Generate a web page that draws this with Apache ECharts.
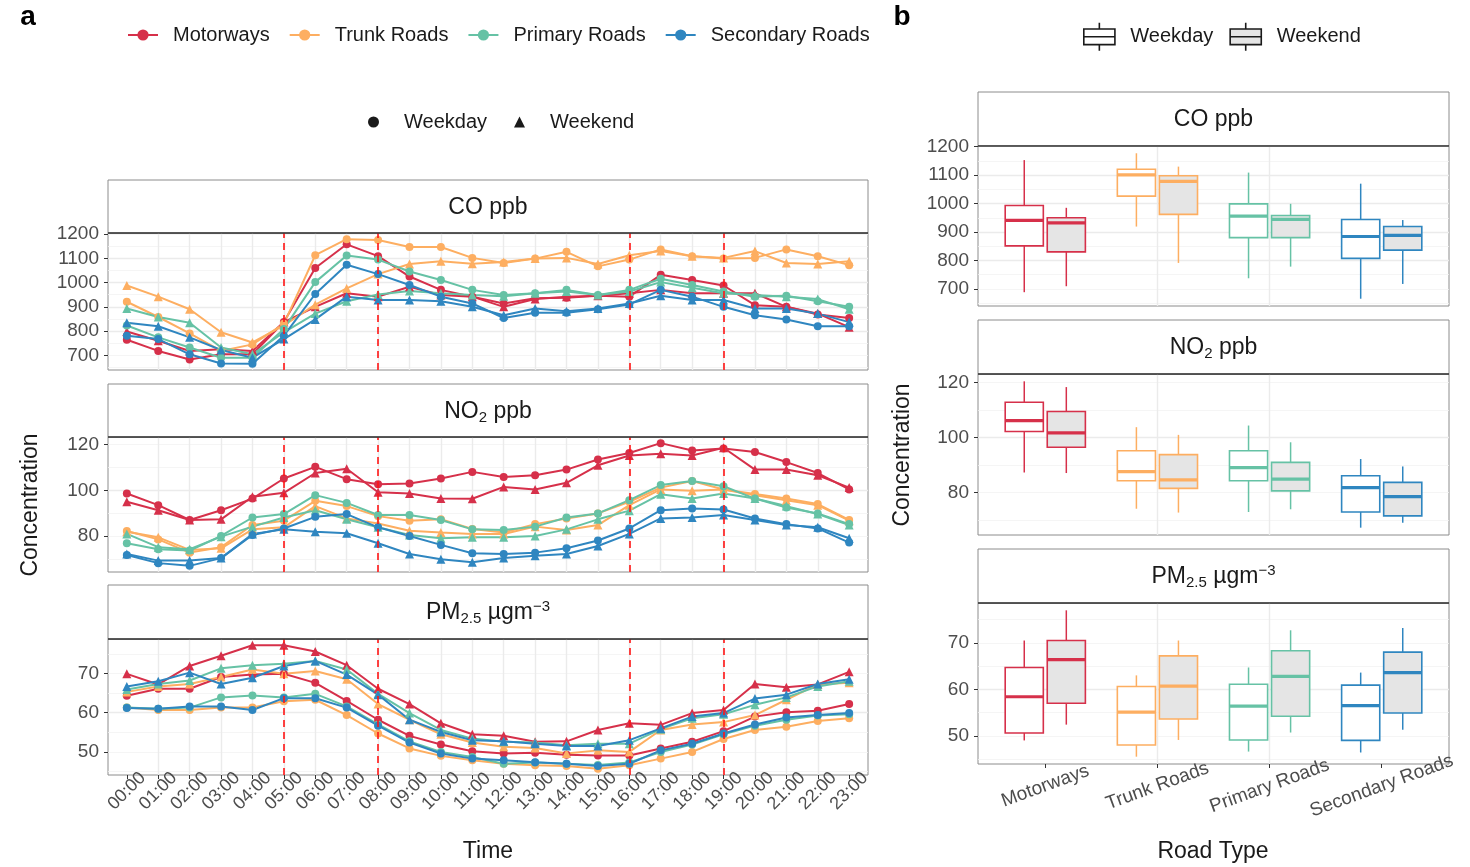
<!DOCTYPE html>
<html>
<head>
<meta charset="utf-8">
<title>Concentration by road type</title>
<script src="https://cdn.jsdelivr.net/npm/echarts@6/dist/echarts.min.js"></script>
<style>
  html, body { margin: 0; padding: 0; background: #fff; }
  #chart { width: 1470px; height: 867px; }
</style>
</head>
<body>
<div id="chart"></div>
<script>
// categories
const hours = ['00:00', '01:00', '02:00', '03:00', '04:00', '05:00', '06:00', '07:00', '08:00', '09:00', '10:00', '11:00',
               '12:00', '13:00', '14:00', '15:00', '16:00', '17:00', '18:00', '19:00', '20:00', '21:00', '22:00', '23:00'];
const roadTypes = ['Motorways', 'Trunk Roads', 'Primary Roads', 'Secondary Roads'];
const roadColors = ['#d6304a', '#fdae61', '#66c2a5', '#2f86c0'];
const rushHours = ['05:00', '08:00', '16:00', '19:00'];
const stripLabels = ['CO ppb', 'NO{sub|2} ppb', 'PM{sub|2.5} µgm{sup|−3}'];

// CO ppb, hourly means (Wd = weekday, We = weekend)
const coMwWd = [764, 718, 683, 704, 704, 837, 1060, 1158, 1109, 1025, 970, 942, 914, 935, 937, 946, 942, 1032, 1011, 988, 907, 900, 868, 854];
const coMwWe = [798, 760, 718, 725, 718, 837, 900, 956, 942, 983, 949, 942, 900, 932, 942, 946, 956, 970, 956, 956, 956, 900, 872, 816];
const coTrWd = [921, 858, 790, 718, 745, 830, 1113, 1179, 1176, 1147, 1147, 1102, 1081, 1099, 1127, 1067, 1095, 1137, 1109, 1099, 1102, 1137, 1109, 1072];
const coTrWe = [988, 942, 890, 795, 753, 823, 909, 976, 1035, 1077, 1088, 1078, 1085, 1099, 1102, 1077, 1113, 1130, 1109, 1102, 1130, 1081, 1077, 1088];
const coPrWd = [823, 774, 732, 690, 690, 809, 1002, 1112, 1095, 1046, 1011, 970, 949, 956, 970, 949, 970, 1016, 990, 963, 942, 946, 923, 900];
const coPrWe = [893, 858, 834, 732, 704, 795, 872, 923, 951, 965, 956, 949, 944, 956, 963, 949, 963, 1002, 979, 956, 949, 942, 932, 890];
const coSeWd = [781, 767, 704, 666, 665, 781, 953, 1074, 1035, 990, 942, 914, 854, 876, 876, 890, 910, 970, 942, 900, 865, 848, 820, 820];
const coSeWe = [834, 820, 774, 722, 690, 767, 848, 942, 928, 928, 923, 900, 865, 893, 882, 893, 914, 946, 928, 928, 893, 893, 872, 837];

// NO2 ppb
const no2MwWd = [98.6, 93.5, 87.0, 91.3, 96.4, 105.2, 110.3, 104.9, 102.7, 103.0, 105.2, 108.1, 105.9, 106.6, 109.1, 113.5, 116.4, 120.7, 117.5, 118.3, 116.8, 112.4, 107.6, 100.4];
const no2MwWe = [95.0, 91.3, 87.0, 87.3, 97.2, 98.9, 107.6, 109.5, 99.2, 98.6, 96.4, 96.3, 101.5, 100.4, 103.3, 111.0, 115.3, 116.0, 115.3, 118.7, 109.1, 109.1, 106.6, 101.2];
const no2TrWd = [82.2, 78.5, 72.7, 75.1, 84.8, 86.7, 95.4, 93.1, 88.7, 86.7, 87.3, 83.1, 81.5, 85.2, 87.7, 89.9, 95.0, 101.2, 104.1, 100.4, 98.4, 96.4, 94.0, 87.0];
const no2TrWe = [81.9, 79.4, 73.9, 74.6, 82.9, 83.8, 93.1, 87.7, 85.5, 82.3, 81.5, 80.9, 80.9, 84.1, 82.6, 84.8, 93.5, 100.4, 99.8, 100.4, 97.9, 95.7, 93.5, 86.7];
const no2PrWd = [76.8, 74.2, 73.6, 80.0, 88.1, 89.6, 97.9, 94.5, 89.2, 89.2, 87.0, 82.9, 82.6, 84.1, 88.1, 89.9, 95.7, 102.3, 104.1, 101.8, 96.4, 92.5, 89.9, 85.2];
const no2PrWe = [80.9, 75.1, 74.2, 79.7, 84.1, 88.1, 91.3, 87.3, 83.8, 80.4, 79.0, 79.4, 79.4, 80.0, 82.9, 87.3, 91.1, 98.3, 96.4, 98.6, 96.4, 93.1, 89.6, 84.8];
const no2SeWd = [71.7, 68.1, 66.9, 70.3, 80.4, 83.3, 88.4, 89.6, 83.8, 80.0, 76.1, 72.4, 72.1, 72.7, 74.6, 78.0, 83.3, 91.3, 92.1, 91.6, 87.7, 85.2, 83.3, 77.1];
const no2SeWe = [72.1, 69.2, 69.2, 70.3, 80.9, 82.9, 81.9, 81.2, 76.8, 72.1, 69.8, 68.5, 70.3, 71.3, 72.1, 75.6, 80.9, 87.7, 88.1, 89.2, 87.0, 84.8, 83.8, 79.0];

// PM2.5 ugm-3
const pmMwWd = [64.3, 66.1, 66.1, 69.1, 69.7, 69.9, 67.6, 63.0, 58.2, 54.1, 51.9, 50.2, 49.6, 49.8, 49.3, 49.1, 49.1, 50.9, 52.6, 55.3, 59.0, 60.1, 60.5, 62.2];
const pmMwWe = [69.9, 67.2, 71.9, 74.5, 77.2, 77.2, 75.6, 72.1, 66.1, 62.2, 57.3, 54.5, 54.1, 52.6, 52.7, 55.6, 57.3, 56.9, 59.9, 60.7, 67.3, 66.5, 67.2, 70.4];
const pmTrWd = [61.3, 60.7, 60.7, 61.3, 61.3, 62.9, 63.3, 59.4, 54.7, 50.9, 49.0, 47.9, 47.0, 46.6, 46.4, 45.7, 46.6, 48.3, 50.0, 53.3, 55.6, 56.4, 57.9, 58.6];
const pmTrWe = [65.3, 66.7, 67.3, 69.1, 71.0, 69.9, 70.6, 68.5, 62.2, 58.2, 54.5, 52.4, 51.3, 51.0, 49.6, 50.4, 50.0, 55.6, 57.0, 57.6, 59.4, 63.3, 67.2, 67.6];
const pmPrWd = [61.3, 61.0, 61.3, 63.9, 64.4, 63.9, 64.8, 61.6, 57.0, 52.7, 50.0, 48.7, 47.0, 47.3, 47.0, 46.7, 47.3, 50.0, 51.9, 54.5, 56.7, 58.2, 59.3, 59.6];
const pmPrWe = [65.9, 67.3, 68.2, 71.3, 72.1, 72.5, 73.2, 71.0, 64.8, 59.9, 55.6, 53.4, 52.6, 52.4, 51.7, 52.1, 52.1, 55.8, 58.6, 59.6, 62.0, 63.9, 66.7, 68.0];
const pmSeWd = [61.2, 61.0, 61.6, 61.6, 60.7, 63.7, 63.7, 61.3, 56.7, 52.4, 49.6, 48.3, 47.9, 47.4, 47.0, 46.4, 47.0, 50.4, 52.1, 54.7, 57.0, 58.8, 59.4, 59.9];
const pmSeWe = [66.7, 68.0, 70.2, 67.3, 68.9, 71.9, 73.2, 69.7, 64.6, 58.2, 55.1, 53.0, 52.7, 52.1, 51.5, 51.5, 53.0, 56.0, 59.0, 59.9, 63.6, 64.6, 67.3, 68.5];

// box plots per road type: [low whisker, Q1, median, Q3, high whisker]
const coBoxWd = [[688, 851, 941, 993, 1153], [919, 1026, 1101, 1121, 1177], [737, 880, 956, 999, 1109], [665, 807, 884, 944, 1070]];
const coBoxWe = [[709, 830, 932, 950, 985], [791, 962, 1078, 1098, 1130], [778, 880, 944, 958, 999], [717, 836, 888, 919, 942]];
const no2BoxWd = [[87.3, 102.2, 106.2, 112.9, 120.5], [74.1, 84.3, 87.6, 95.2, 103.8], [72.9, 84.3, 89.1, 95.2, 104.4], [67.2, 72.9, 81.8, 86.1, 92.2]];
const no2BoxWe = [[87.1, 96.5, 101.7, 109.5, 118.4], [72.7, 81.5, 84.6, 93.8, 101.0], [73.9, 80.6, 84.9, 91.0, 98.3], [69.0, 71.5, 78.5, 83.7, 89.5]];
const pmBoxWd = [[49.0, 50.6, 58.4, 64.7, 70.5], [45.5, 48.0, 55.1, 60.6, 63.0], [46.6, 49.1, 56.4, 61.1, 64.7], [46.4, 49.0, 56.5, 60.9, 63.6]];
const pmBoxWe = [[52.4, 57.0, 66.4, 70.5, 77.0], [49.1, 53.6, 60.7, 67.2, 70.5], [50.7, 54.2, 62.8, 68.3, 72.7], [51.3, 54.9, 63.6, 68.0, 73.2]];

const FONT = '"Liberation Sans", Arial, sans-serif';
const TEXT = '#1a1a1a';
const TICK_TEXT = '#4d4d4d';
const BORDER = '#8c8c8c';
const GRID_MAJOR = '#ebebeb';
const GRID_MINOR = '#f2f2f2';
const BOX_W = 0.34;    // box width in category units
const BOX_OFF = 0.1875; // dodge offset

const panels = [
  { lines: [[coMwWd, coMwWe], [coTrWd, coTrWe], [coPrWd, coPrWe], [coSeWd, coSeWe]], boxWd: coBoxWd, boxWe: coBoxWe, major: 100, minor: 50 },
  { lines: [[no2MwWd, no2MwWe], [no2TrWd, no2TrWe], [no2PrWd, no2PrWe], [no2SeWd, no2SeWe]], boxWd: no2BoxWd, boxWe: no2BoxWe, major: 20, minor: 10 },
  { lines: [[pmMwWd, pmMwWe], [pmTrWd, pmTrWe], [pmPrWd, pmPrWe], [pmSeWd, pmSeWe]], boxWd: pmBoxWd, boxWe: pmBoxWe, major: 10, minor: 5 }
];

// layout (pixels)
const leftBox = { x: 108, w: 760, panels: [{ strip: 180, top: 233, h: 137 }, { strip: 384, top: 437, h: 135 }, { strip: 585, top: 639, h: 136 }] };
const rightBox = { x: 978, w: 471, panels: [{ strip: 92, top: 146, h: 160 }, { strip: 320, top: 374, h: 161 }, { strip: 549, top: 603, h: 161 }] };

// ggplot style 5% expansion
function padRange(vals) {
  let lo = Math.min.apply(null, vals), hi = Math.max.apply(null, vals);
  let d = (hi - lo) * 0.05;
  return [lo - d, hi + d];
}

const grids = [], xAxes = [], yAxes = [], series = [], graphics = [];
const hourIdx = hours.map((h, i) => i);
const roadIdx = roadTypes.map((r, i) => i);

// returns index of the major (labelled) y axis
function addYAxes(gi, range, major, minor) {
  let ticks = [];
  for (let v = Math.ceil(range[0] / major) * major; v <= range[1]; v += major) ticks.push(v);
  // minor grid lines
  yAxes.push({
    gridIndex: gi, type: 'value', position: 'right', min: range[0], max: range[1],
    minInterval: minor, maxInterval: minor,
    axisLine: { show: false }, axisTick: { show: false }, axisLabel: { show: false },
    splitLine: { show: true, showMinLine: false, showMaxLine: false, lineStyle: { color: GRID_MINOR, width: 0.8 } }
  });
  // major grid lines + labels
  yAxes.push({
    gridIndex: gi, type: 'value', position: 'left', min: range[0], max: range[1],
    minInterval: major, maxInterval: major,
    axisLine: { show: false },
    axisTick: { show: true, length: 4, customValues: ticks, lineStyle: { color: '#333', width: 1 } },
    axisLabel: {
      customValues: ticks,
      formatter: v => ticks.indexOf(v) >= 0 ? String(v) : '',
      fontSize: 19, fontFamily: FONT, color: TICK_TEXT, margin: 9
    },
    splitLine: { show: true, showMinLine: false, showMaxLine: false, lineStyle: { color: GRID_MAJOR, width: 1.4 } }
  });
  return yAxes.length - 1;
}

function addGrid(box, p) {
  grids.push({ left: box.x, top: p.top, width: box.w, height: p.h, show: true,
    borderColor: BORDER, borderWidth: 1, backgroundColor: '#fff', outerBoundsMode: 'none', containLabel: false });
  return grids.length - 1;
}

function addStrip(x, w, p, label) {
  graphics.push({ type: 'rect', silent: true, shape: { x: x, y: p.strip, width: w, height: p.top - p.strip },
    style: { fill: '#fff', stroke: BORDER, lineWidth: 1 } });
  graphics.push({ type: 'line', silent: true, z: 100, shape: { x1: x, y1: p.top, x2: x + w, y2: p.top },
    style: { stroke: '#333', lineWidth: 1.6 } });
  graphics.push({ type: 'text', silent: true, x: x + w / 2, y: (p.strip + p.top) / 2 + 1,
    style: {
      text: label, fontSize: 23, fontFamily: FONT, fill: TEXT, align: 'center', verticalAlign: 'middle',
      rich: {
        sub: { fontSize: 15, fontFamily: FONT, fill: TEXT, padding: [12, 0, 0, 0] },
        sup: { fontSize: 15, fontFamily: FONT, fill: TEXT, padding: [0, 0, 12, 0] }
      }
    } });
}

function boxRenderer(offset, fill) {
  return function (params, api) {
    let cat = api.value(0);
    let cx = cat + offset;
    let pLow = api.coord([cx, api.value(1)]);
    let pQ1 = api.coord([cx, api.value(2)]);
    let pMed = api.coord([cx, api.value(3)]);
    let pQ3 = api.coord([cx, api.value(4)]);
    let pHigh = api.coord([cx, api.value(5)]);
    let half = api.size([BOX_W, 0])[0] / 2;
    let col = roadColors[cat];
    let x = pMed[0];
    return {
      type: 'group',
      children: [
        { type: 'line', shape: { x1: x, y1: pLow[1], x2: x, y2: pQ1[1] }, style: { stroke: col, lineWidth: 1.5 } },
        { type: 'line', shape: { x1: x, y1: pQ3[1], x2: x, y2: pHigh[1] }, style: { stroke: col, lineWidth: 1.5 } },
        { type: 'rect', shape: { x: x - half, y: pQ3[1], width: half * 2, height: pQ1[1] - pQ3[1] },
          style: { fill: fill, stroke: col, lineWidth: 1.6 } },
        { type: 'line', shape: { x1: x - half, y1: pMed[1], x2: x + half, y2: pMed[1] }, style: { stroke: col, lineWidth: 3.2 } }
      ]
    };
  };
}

panels.forEach(function (pan, k) {
  let isBottom = k === panels.length - 1;

  // ---- left: hourly lines ----
  let lp = leftBox.panels[k];
  let gi = addGrid(leftBox, lp);
  xAxes.push({
    gridIndex: gi, type: 'value', min: -0.6, max: hours.length - 0.4, minInterval: 1, maxInterval: 1,
    axisLine: { show: false },
    axisTick: { show: isBottom, length: 4, customValues: hourIdx, lineStyle: { color: '#333' } },
    axisLabel: {
      show: isBottom, customValues: hourIdx, formatter: v => hours[v] || '',
      rotate: 45, align: 'center', verticalAlign: 'middle', margin: 16,
      fontSize: 18, fontFamily: FONT, color: TICK_TEXT
    },
    splitLine: { show: true, showMinLine: false, showMaxLine: false, lineStyle: { color: GRID_MAJOR, width: 1.4 } }
  });
  let xi = xAxes.length - 1;
  let allVals = [];
  pan.lines.forEach(pair => pair.forEach(arr => allVals = allVals.concat(arr)));
  let yi = addYAxes(gi, padRange(allVals), pan.major, pan.minor);

  // rush hour markers
  series.push({
    type: 'line', name: 'rush', xAxisIndex: xi, yAxisIndex: yi, data: [], silent: true, z: 1,
    markLine: {
      silent: true, symbol: 'none', label: { show: false }, animation: false,
      lineStyle: { color: '#ff1414', type: [7, 5], width: 1.6 },
      data: rushHours.map(h => ({ xAxis: hours.indexOf(h) }))
    }
  });

  pan.lines.forEach(function (pair, r) {
    pair.forEach(function (vals, d) {
      series.push({
        type: 'line', name: roadTypes[r], xAxisIndex: xi, yAxisIndex: yi,
        data: vals.map((v, i) => [i, v]),
        symbol: d === 0 ? 'circle' : 'triangle', symbolSize: d === 0 ? 8 : 9,
        itemStyle: { color: roadColors[r] },
        lineStyle: { color: roadColors[r], width: 2 },
        z: 3
      });
    });
  });
  addStrip(leftBox.x, leftBox.w, lp, stripLabels[k]);

  // ---- right: box plots ----
  let rp = rightBox.panels[k];
  let rgi = addGrid(rightBox, rp);
  xAxes.push({
    gridIndex: rgi, type: 'value', min: -0.6, max: roadTypes.length - 0.4, minInterval: 1, maxInterval: 1,
    axisLine: { show: false },
    axisTick: { show: isBottom, length: 4, customValues: roadIdx, lineStyle: { color: '#333' } },
    axisLabel: {
      show: isBottom, customValues: roadIdx, formatter: v => roadTypes[v] || '',
      rotate: 20, align: 'center', verticalAlign: 'middle', margin: 22,
      fontSize: 19, fontFamily: FONT, color: TICK_TEXT
    },
    splitLine: { show: true, showMinLine: false, showMaxLine: false, lineStyle: { color: GRID_MAJOR, width: 1.4 } }
  });
  let rxi = xAxes.length - 1;
  let boxVals = [];
  pan.boxWd.concat(pan.boxWe).forEach(b => boxVals = boxVals.concat(b));
  let ryi = addYAxes(rgi, padRange(boxVals), pan.major, pan.minor);

  [[pan.boxWd, -BOX_OFF, '#ffffff'], [pan.boxWe, BOX_OFF, '#e5e5e5']].forEach(function (g) {
    series.push({
      type: 'custom', xAxisIndex: rxi, yAxisIndex: ryi, clip: false,
      renderItem: boxRenderer(g[1], g[2]),
      encode: { x: 0, y: [1, 2, 3, 4, 5] },
      data: g[0].map((row, i) => [i].concat(row)),
      z: 3
    });
  });
  addStrip(rightBox.x, rightBox.w, rp, stripLabels[k]);
});

// legend-only series for the shape / box keys
series.push({ type: 'line', name: 'Weekday', data: [], xAxisIndex: 0, yAxisIndex: 1, symbol: 'circle', itemStyle: { color: TEXT } });
series.push({ type: 'line', name: 'Weekend', data: [], xAxisIndex: 0, yAxisIndex: 1, symbol: 'triangle', itemStyle: { color: TEXT } });

// titles
graphics.push({ type: 'text', silent: true, x: 28, y: 17, style: { text: 'a', font: 'bold 28px ' + FONT, fill: '#000', align: 'center', verticalAlign: 'middle' } });
graphics.push({ type: 'text', silent: true, x: 902, y: 17, style: { text: 'b', font: 'bold 28px ' + FONT, fill: '#000', align: 'center', verticalAlign: 'middle' } });
graphics.push({ type: 'text', silent: true, x: 31, y: 505, rotation: Math.PI / 2, style: { text: 'Concentration', fontSize: 23, fontFamily: FONT, fill: TEXT, align: 'center', verticalAlign: 'middle' } });
graphics.push({ type: 'text', silent: true, x: 903, y: 455, rotation: Math.PI / 2, style: { text: 'Concentration', fontSize: 23, fontFamily: FONT, fill: TEXT, align: 'center', verticalAlign: 'middle' } });
graphics.push({ type: 'text', silent: true, x: 488, y: 852, style: { text: 'Time', fontSize: 23, fontFamily: FONT, fill: TEXT, align: 'center', verticalAlign: 'middle' } });
graphics.push({ type: 'text', silent: true, x: 1213, y: 852, style: { text: 'Road Type', fontSize: 23, fontFamily: FONT, fill: TEXT, align: 'center', verticalAlign: 'middle' } });

const BOX_ICON = 'path://M15,0L15,6M0,6L30,6L30,21L0,21ZM0,13.5L30,13.5M15,21L15,27';

let chart = echarts.init(document.getElementById('chart'), null, { renderer: 'canvas' });
let option = {
  animation: false,
  backgroundColor: '#fff',
  textStyle: { fontFamily: FONT },
  grid: grids,
  xAxis: xAxes,
  yAxis: yAxes,
  legend: [
    {
      data: roadTypes, left: 127, top: 25, padding: 0, itemWidth: 30, itemHeight: 14, itemGap: 19,
      selectedMode: false, textStyle: { fontSize: 20, fontFamily: FONT, color: TEXT, padding: [0, 0, 0, 10] }
    },
    {
      data: [{ name: 'Weekday', icon: 'circle', itemStyle: { color: TEXT } }, { name: 'Weekend', icon: 'triangle', itemStyle: { color: TEXT } }],
      left: 368, top: 112, padding: 0, itemWidth: 11, itemHeight: 11, itemGap: 27,
      selectedMode: false, textStyle: { fontSize: 20, fontFamily: FONT, color: TEXT, padding: [0, 0, 0, 20] }
    },
    {
      data: [
        { name: 'Weekday', icon: BOX_ICON, itemStyle: { color: '#ffffff', borderColor: TEXT, borderWidth: 1.6 } },
        { name: 'Weekend', icon: BOX_ICON, itemStyle: { color: '#e5e5e5', borderColor: TEXT, borderWidth: 1.6 } }
      ],
      left: 1083, top: 22, padding: 0, itemWidth: 32, itemHeight: 28, itemGap: 16,
      selectedMode: false, textStyle: { fontSize: 20, fontFamily: FONT, color: TEXT, padding: [0, 0, 0, 10] }
    }
  ],
  graphic: { elements: graphics },
  series: series
};
chart.setOption(option);
</script>
</body>
</html>
